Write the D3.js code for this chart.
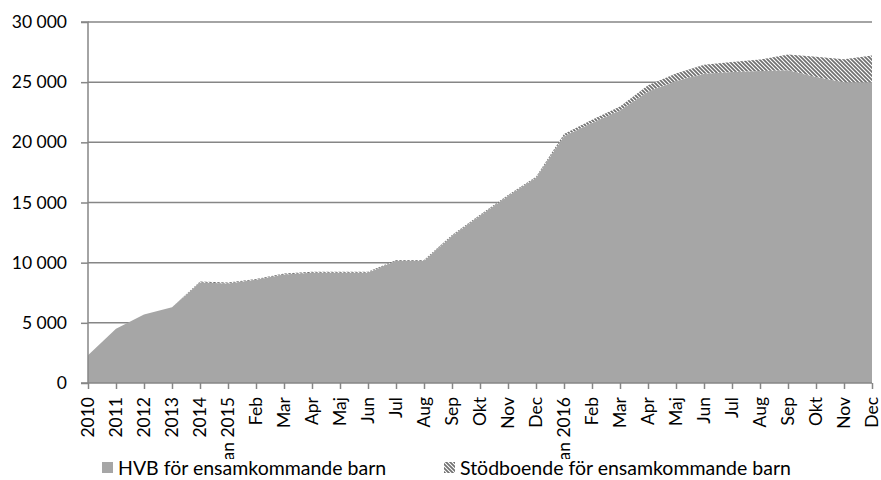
<!DOCTYPE html>
<html>
<head>
<meta charset="utf-8">
<script src="https://cdn.jsdelivr.net/npm/d3@7"></script>
<style>
  html, body { margin: 0; padding: 0; background: #fff; }
  svg { display: block; }
  text { font-family: Lato, "Open Sans", sans-serif; fill: #000; }
</style>
</head>
<body>
<svg id="chart" width="881" height="480"></svg>
<script>
const categories = ["2010","2011","2012","2013","2014","Jan 2015","Feb","Mar","Apr","Maj","Jun","Jul","Aug","Sep","Okt","Nov","Dec","Jan 2016","Feb","Mar","Apr","Maj","Jun","Jul","Aug","Sep","Okt","Nov","Dec"];
const hvb  = [2300,4500,5700,6300,8350,8270,8570,9020,9170,9170,9170,10150,10150,12220,13900,15550,17050,20500,21600,22650,24200,25100,25700,25850,25920,26000,25430,25000,25000];
const stod = [0,0,0,0,80,80,80,80,80,80,80,80,80,80,80,80,80,200,270,330,550,620,740,830,960,1300,1680,1900,2220];
const yTicks = [0,5000,10000,15000,20000,25000,30000];
const seriesNames = ["HVB för ensamkommande barn","Stödboende för ensamkommande barn"];

const svg = d3.select("#chart");
const mLeft = 88, mRight = 872, mTop = 22, mBottom = 383;

const defs = svg.append("defs");
const pat = defs.append("pattern").attr("id","hatch").attr("patternUnits","userSpaceOnUse")
  .attr("width",4).attr("height",4);
pat.append("rect").attr("width",4).attr("height",4).attr("fill","#fff");
pat.append("path").attr("d","M-1,-1 L5,5 M-1,3 L1,5 M3,-1 L5,1")
  .attr("stroke","#707070").attr("stroke-width",1.7);

const x = d3.scalePoint().domain(d3.range(categories.length)).range([mLeft, mRight]);
const y = d3.scaleLinear().domain([0,30000]).range([mBottom, mTop]);

// gridlines
svg.append("g").selectAll("line").data(yTicks.filter(d => d > 0)).join("line")
  .attr("x1", mLeft).attr("x2", mRight).attr("y1", d => y(d)).attr("y2", d => y(d))
  .attr("stroke","#868686").attr("stroke-width",1.5);

const data = categories.map((c,i) => ({i, hvb: hvb[i], stod: stod[i]}));
const stack = d3.stack().keys(["hvb","stod"])(data);

const area = d3.area().x(d => x(d.data.i)).y0(d => y(d[0])).y1(d => y(d[1]));
svg.append("path").datum(stack[0]).attr("d", area).attr("fill","#a6a6a6");
svg.append("path").datum(stack[1]).attr("d", area).attr("fill","url(#hatch)");

// y axis
const yAxis = d3.axisLeft(y).tickValues(yTicks).tickSize(7).tickPadding(14)
  .tickFormat(d => d3.format(",")(d).replace(/,/g, " "));
const gy = svg.append("g").attr("transform", `translate(${mLeft},0)`).call(yAxis);
gy.select(".domain").attr("stroke","#868686").attr("stroke-width",1.5).attr("d", `M-7,${mBottom}H0V${mTop}H-7`);
gy.selectAll(".tick line").attr("stroke","#868686").attr("stroke-width",1.5);
gy.selectAll(".tick text").attr("font-size","17.5px").attr("font-family","Lato, sans-serif").attr("fill","#000");

// x axis
const xAxis = d3.axisBottom(x).tickSize(6).tickFormat(i => categories[i]);
const gx = svg.append("g").attr("transform", `translate(0,${mBottom})`).call(xAxis);
gx.select(".domain").attr("stroke","#868686").attr("stroke-width",1.5).attr("d", `M${mLeft},0H${mRight}`);
gx.selectAll(".tick line").attr("stroke","#868686").attr("stroke-width",1.5);
gx.selectAll(".tick text")
  .attr("font-size","17.5px").attr("font-family","Lato, sans-serif").attr("fill","#000")
  .attr("text-anchor","end").attr("transform","rotate(-90)")
  .attr("x", -14).attr("y", 0).attr("dy","0.3em");

// legend
const lg = svg.append("g");
lg.append("rect").attr("x", 95).attr("y", 459).attr("width", 760).attr("height", 21).attr("fill","#fff");
const items = [{name: seriesNames[0], fill: "#a6a6a6", x: 102}, {name: seriesNames[1], fill: "url(#hatch)", x: 444}];
items.forEach(it => {
  lg.append("rect").attr("x", it.x).attr("y", 462).attr("width", 11).attr("height", 11).attr("fill", it.fill);
  lg.append("text").attr("x", it.x + 16).attr("y", 475).attr("font-size","19.5px").text(it.name);
});
</script>
</body>
</html>
